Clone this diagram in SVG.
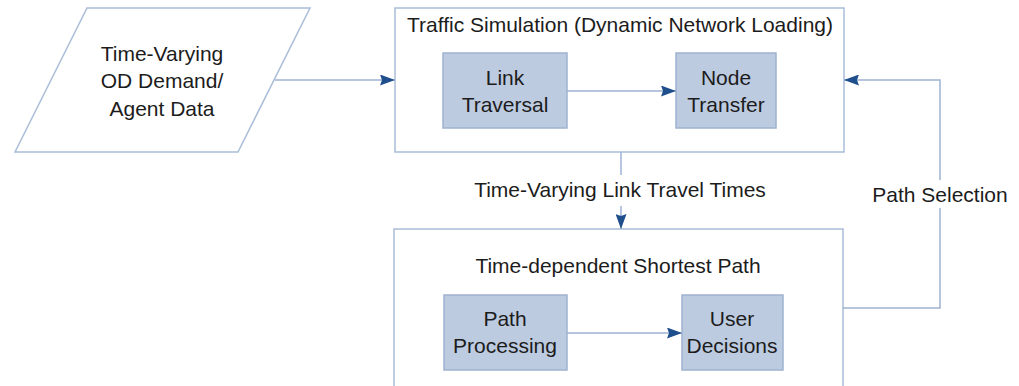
<svg xmlns="http://www.w3.org/2000/svg" width="1019" height="386" viewBox="0 0 1019 386">
<defs>
<marker id="ah" viewBox="0 0 15 11" refX="15" refY="5.5" markerWidth="15" markerHeight="11" markerUnits="userSpaceOnUse" orient="auto">
<path d="M0,0 L15,5.5 L0,11 L2,5.5 Z" fill="#1f4e8c"/>
</marker>
<style>
.outer{fill:#ffffff;stroke:#a9bdd8;stroke-width:1.5}
.inner{fill:#bccbe0;stroke:#9fb3cf;stroke-width:1.5}
.conn{fill:none;stroke:#9db3d3;stroke-width:1.5}
text{font-family:"Liberation Sans",Arial,sans-serif;font-size:21px;fill:#1c1c1c;text-anchor:middle}
</style>
</defs>
<g id="input">
<polygon class="outer" points="87,8 310,8 238,152 15,152"/>
<text x="162" y="61">Time-Varying</text>
<text x="162" y="88">OD Demand/</text>
<text x="162" y="116">Agent Data</text>
</g>
<g id="traffic-sim">
<rect class="outer" x="395" y="8" width="449" height="144"/>
<text x="620" y="32">Traffic Simulation (Dynamic Network Loading)</text>
</g>
<g id="link-traversal">
<rect class="inner" x="443" y="53" width="124" height="75"/>
<text x="505" y="85">Link</text>
<text x="505" y="112">Traversal</text>
</g>
<g id="node-transfer">
<rect class="inner" x="676" y="53" width="100" height="75"/>
<text x="726" y="85">Node</text>
<text x="726" y="112">Transfer</text>
</g>
<g id="shortest-path">
<rect class="outer" x="394" y="229" width="449" height="160"/>
<text x="618" y="273">Time-dependent Shortest Path</text>
</g>
<g id="path-processing">
<rect class="inner" x="444" y="295" width="123" height="75"/>
<text x="505" y="326">Path</text>
<text x="505" y="353">Processing</text>
</g>
<g id="user-decisions">
<rect class="inner" x="682" y="295" width="101" height="75"/>
<text x="732" y="326">User</text>
<text x="732" y="353">Decisions</text>
</g>
<g id="connectors">
<line class="conn" x1="275" y1="80" x2="395" y2="80" marker-end="url(#ah)"/>
<line class="conn" x1="567" y1="91" x2="676" y2="91" marker-end="url(#ah)"/>
<line class="conn" x1="567" y1="333" x2="682" y2="333" marker-end="url(#ah)"/>
<line class="conn" x1="621" y1="152" x2="621" y2="175"/>
<line class="conn" x1="621" y1="206" x2="621" y2="229" marker-end="url(#ah)"/>
<polyline class="conn" points="843,308 940,308 940,208"/>
<polyline class="conn" points="940,180 940,80 844,80" marker-end="url(#ah)"/>
<text x="620" y="197">Time-Varying Link Travel Times</text>
<text x="940" y="202">Path Selection</text>
</g>
</svg>
